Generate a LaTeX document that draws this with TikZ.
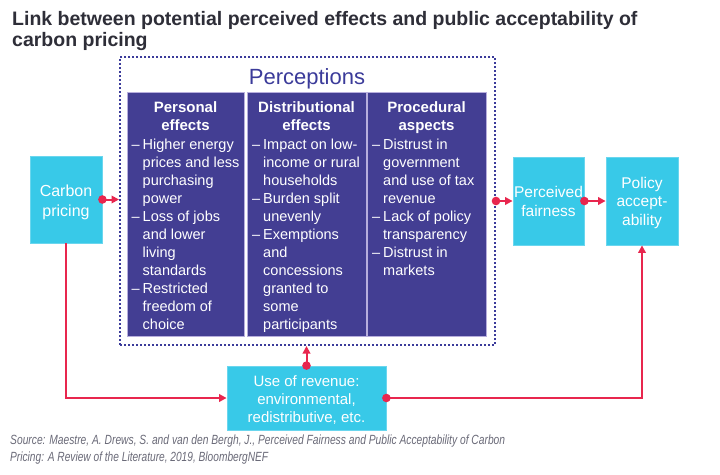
\documentclass[tikz,border=0pt]{standalone}
\usepackage{fontspec}
\setmainfont{Liberation Sans}
\usetikzlibrary{arrows.meta}
\definecolor{cyanbox}{HTML}{38C9E8}
\definecolor{cyanedge}{HTML}{6AD6EE}
\definecolor{purplebox}{HTML}{433E93}
\definecolor{lavender}{HTML}{B7AEDD}
\definecolor{dotblue}{HTML}{3B3B9A}
\definecolor{conred}{HTML}{E8264E}
\definecolor{titlegray}{HTML}{2E2E38}
\definecolor{srcgray}{HTML}{6A6A78}
\newcommand\bli{\makebox[11pt][l]{–}}
\newcommand\blc{\hspace*{11pt}}
\newcommand\tstrut{\rule{0pt}{13pt}}
\begin{document}
\begin{tikzpicture}[x=1pt,y=-1pt,
  cbox/.style={fill=cyanbox, draw=cyanedge, line width=0.8pt, inner sep=0pt},
  pbox/.style={fill=purplebox, draw=lavender, line width=1pt, inner sep=0pt, minimum height=244pt},
  ctext/.style={anchor=north, text=white, align=center, inner sep=0pt},
  headtext/.style={anchor=north, text=white, align=center, inner sep=0pt, font=\bfseries\fontsize{15}{18}\selectfont},
  bultext/.style={anchor=north west, text=white, align=left, inner sep=0pt, font=\fontsize{14.5}{18}\selectfont},
  conn/.style={draw=conred, line width=2pt, -{Triangle[length=7.5pt,width=7.5pt]}},
  reddot/.style={fill=conred},
  titletext/.style={anchor=base west, inner sep=0pt, text=titlegray, font=\bfseries\fontsize{19.5}{22}\selectfont},
  srctext/.style={anchor=base west, inner sep=0pt, text=srcgray, font=\itshape\fontsize{13.3}{16}\selectfont}
]
\fill[white] (0,0) rectangle (720,474);
\useasboundingbox (0,0) rectangle (720,474);

% title
\node[titletext] (title1) at (12,25) {Link between potential perceived effects and public acceptability of};
\node[titletext] (title2) at (12,46) {carbon pricing};

% perceptions frame
\node[draw=dotblue, line width=2pt, dash pattern=on 2pt off 2pt, minimum width=375pt, minimum height=288pt, inner sep=0pt] (percep) at (307.5,201) {};
\node[anchor=base, inner sep=0pt, text=dotblue, font=\fontsize{22}{26}\selectfont] (perctitle) at (307,84) {Perceptions};

% purple boxes
\node[pbox, minimum width=117pt] (pers) at (185.5,214) {};
\node[pbox, minimum width=119pt] (dist) at (306.5,214) {};
\node[pbox, minimum width=119pt] (proc) at (426.5,214) {};

\node[headtext] (pershead) at (185.5,99) {\tstrut Personal\\effects};
\node[headtext] (disthead) at (306.5,99) {\tstrut Distributional\\effects};
\node[headtext] (prochead) at (426.5,99) {\tstrut Procedural\\aspects};

\node[bultext] (persbul) at (131.5,136) {\tstrut\bli Higher energy\\
\blc prices and less\\
\blc purchasing\\
\blc power\\
\bli Loss of jobs\\
\blc and lower\\
\blc living\\
\blc standards\\
\bli Restricted\\
\blc freedom of\\
\blc choice};

\node[bultext] (distbul) at (252,136) {\tstrut\bli Impact on low-\\
\blc income or rural\\
\blc households\\
\bli Burden split\\
\blc unevenly\\
\bli Exemptions\\
\blc and\\
\blc concessions\\
\blc granted to\\
\blc some\\
\blc participants};

\node[bultext] (procbul) at (372,136) {\tstrut\bli Distrust in\\
\blc government\\
\blc and use of tax\\
\blc revenue\\
\bli Lack of policy\\
\blc transparency\\
\bli Distrust in\\
\blc markets};

% cyan boxes
\node[cbox, minimum width=72pt, minimum height=87pt] (carbon) at (66,199.5) {};
\node[ctext, font=\fontsize{16}{20}\selectfont] (carbontext) at (66,183) {\tstrut Carbon\\pricing};

\node[cbox, minimum width=71pt, minimum height=88pt] (fair) at (548.5,201) {};
\node[ctext, font=\fontsize{15.5}{19}\selectfont] (fairtext) at (548.5,184) {\tstrut Perceived\\fairness};

\node[cbox, minimum width=72pt, minimum height=88pt] (policy) at (642,201) {};
\node[ctext, font=\fontsize{15.5}{18.5}\selectfont] (policytext) at (642,175) {\tstrut Policy\\accept-\\ability};

\node[cbox, minimum width=159pt, minimum height=64pt] (revenue) at (306.5,398) {};
\node[ctext, font=\fontsize{15}{18}\selectfont] (revtext) at (306.5,373) {\tstrut Use of revenue:\\environmental,\\redistributive, etc.};

% connectors
\draw[conn] (carbon.east) -- (carbon.east -| percep.west);
\fill[reddot] (carbon.east) circle[radius=4.3pt];

\draw[conn] (percep.east) -- (fair.west);
\fill[reddot] (percep.east) circle[radius=4.3pt];

\draw[conn] (fair.east) -- (policy.west);
\fill[reddot] (fair.east) circle[radius=4.3pt];

\draw[conn] (revenue.north) -- (revenue.north |- percep.south);
\fill[reddot] (revenue.north) circle[radius=4.3pt];

\draw[conn] (carbon.south) |- (revenue.west);

\draw[conn] (revenue.east) -| (policy.south);
\fill[reddot] (revenue.east) circle[radius=4.3pt];

% source
\node[srctext] (src1) at (10,444.5) {\resizebox{495pt}{\height}{Source: Maestre, A. Drews, S. and van den Bergh, J., Perceived Fairness and Public Acceptability of Carbon}};
\node[srctext] (src2) at (10,461.5) {\resizebox{258pt}{\height}{Pricing: A Review of the Literature, 2019, BloombergNEF}};
\end{tikzpicture}
\end{document}
